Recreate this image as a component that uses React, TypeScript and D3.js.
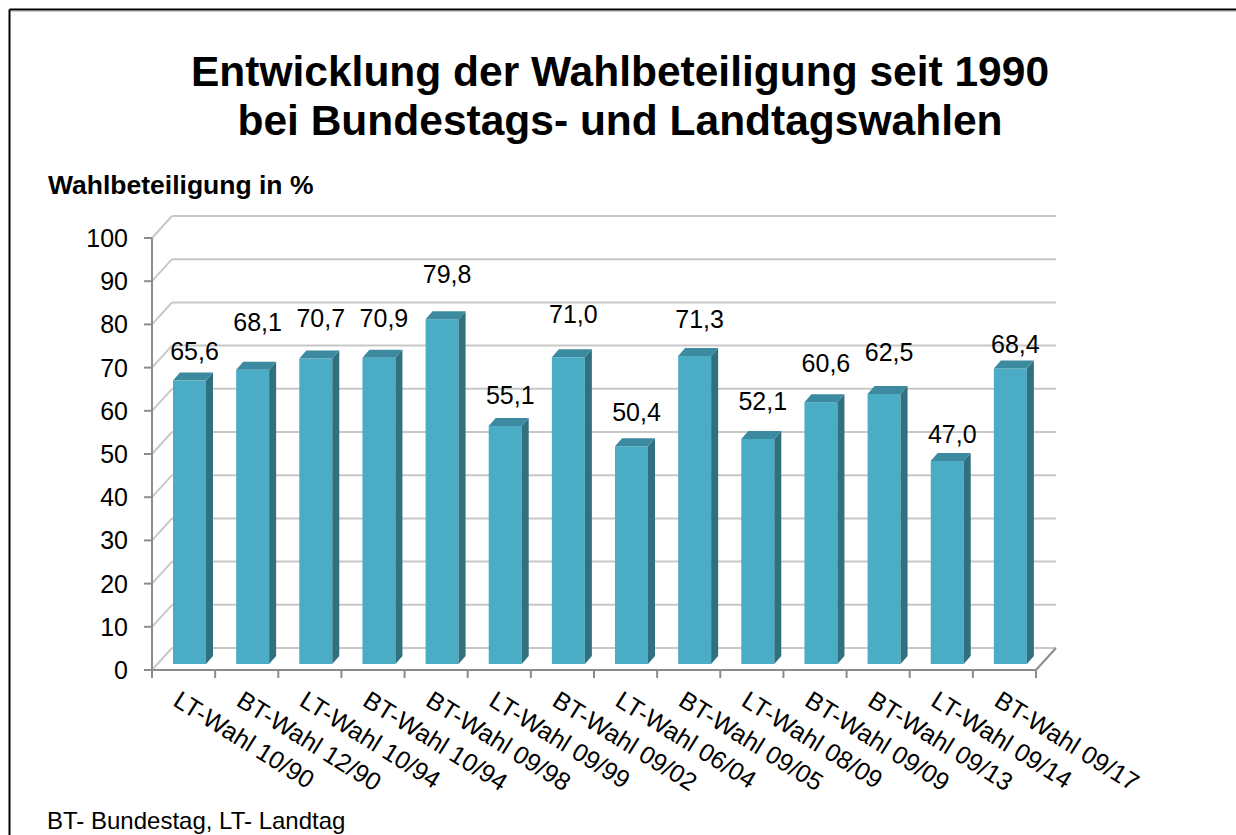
import React from "react";
import * as d3 from "d3";

// election labels (x axis) and turnout in percent
const elections = [
  "LT-Wahl 10/90",
  "BT-Wahl 12/90",
  "LT-Wahl 10/94",
  "BT-Wahl 10/94",
  "BT-Wahl 09/98",
  "LT-Wahl 09/99",
  "BT-Wahl 09/02",
  "LT-Wahl 06/04",
  "BT-Wahl 09/05",
  "LT-Wahl 08/09",
  "BT-Wahl 09/09",
  "BT-Wahl 09/13",
  "LT-Wahl 09/14",
  "BT-Wahl 09/17",
];
const turnout = [65.6, 68.1, 70.7, 70.9, 79.8, 55.1, 71.0, 50.4, 71.3, 52.1, 60.6, 62.5, 47.0, 68.4];
const yTicks = [0, 10, 20, 30, 40, 50, 60, 70, 80, 90, 100];
// labels were placed by hand in the original, gap above the bar top in px
const labelGap = [13, 31, 24, 23, 28, 14, 26, 17, 20, 21, 22, 25, 10, 8];

const W = 1236;
const H = 835;
const FONT = "'Liberation Sans', Arial, sans-serif";

// 3d look
const wallDx = 20;
const wallDy = -22;
const barDx = 6; // bar front plane inside the floor
const barDy = -6;
const depthDx = 7; // bar depth
const depthDy = -8;

const front = "#4BACC6";
const side = "#30707F";
const top = "#3B8AA0";
const grid = "#C8C8C8";
const axisCol = "#8C8C8C";

const fmt = (v: number) => v.toFixed(1).replace(".", ",");

export default function App() {
  const x = d3.scaleBand<string>().domain(elections).range([152, 1036]).paddingInner(0).paddingOuter(0);
  const y = d3.scaleLinear().domain([0, 100]).range([670, 238]);
  const bw = x.bandwidth();
  const barW = 33;
  const barOff = 21 - barDx;

  const x0 = x.range()[0];
  const x1 = x.range()[1];
  const yBase = y(0);

  return (
    <svg width={W} height={H} style={{ position: "absolute", left: 0, top: 0, background: "#fff" }} fontFamily={FONT}>
      {/* frame */}
      <line x1={9.5} y1={9.5} x2={W} y2={9.5} stroke="#000" strokeWidth={2} />
      <line x1={9.5} y1={9.5} x2={9.5} y2={H} stroke="#000" strokeWidth={2} />
      <line x1={11} y1={11.5} x2={W} y2={11.5} stroke="#ccc" strokeWidth={1} />

      {/* title */}
      <text x={620} y={86} textAnchor="middle" fontSize={42.5} fontWeight="bold">
        Entwicklung der Wahlbeteiligung seit 1990
      </text>
      <text x={620} y={135} textAnchor="middle" fontSize={42.5} fontWeight="bold">
        bei Bundestags- und Landtagswahlen
      </text>
      <text x={48} y={194} fontSize={26.5} fontWeight="bold">
        Wahlbeteiligung in %
      </text>

      {/* back wall gridlines and side wall diagonals */}
      {yTicks.map((t) => (
        <g key={"g" + t}>
          <line x1={x0 + wallDx} x2={x1 + wallDx} y1={y(t) + wallDy} y2={y(t) + wallDy} stroke={grid} strokeWidth={2} />
          <line x1={x0} x2={x0 + wallDx} y1={y(t)} y2={y(t) + wallDy} stroke={grid} strokeWidth={2} />
        </g>
      ))}
      {/* floor right edge */}
      <line x1={x1} x2={x1 + wallDx} y1={yBase} y2={yBase + wallDy} stroke={axisCol} strokeWidth={2} />

      {/* bars */}
      {elections.map((e, i) => {
        const v = turnout[i];
        const fx = (x(e) as number) + barOff + barDx;
        const fy = y(v) + barDy;
        const by = yBase + barDy;
        return (
          <g key={e}>
            <rect x={fx} y={fy} width={barW} height={by - fy} fill={front} />
            <polygon
              points={`${fx + barW},${fy} ${fx + barW + depthDx},${fy + depthDy} ${fx + barW + depthDx},${by + depthDy} ${fx + barW},${by}`}
              fill={side}
            />
            <polygon
              points={`${fx},${fy} ${fx + depthDx},${fy + depthDy} ${fx + barW + depthDx},${fy + depthDy} ${fx + barW},${fy}`}
              fill={top}
            />
          </g>
        );
      })}

      {/* axes */}
      <line x1={x0} x2={x0} y1={y(100)} y2={yBase} stroke={axisCol} strokeWidth={2} />
      <line x1={x0 - 8} x2={x1} y1={yBase} y2={yBase} stroke={axisCol} strokeWidth={2} />
      {yTicks.map((t) => (
        <g key={"t" + t}>
          <line x1={x0 - 8} x2={x0} y1={y(t)} y2={y(t)} stroke={axisCol} strokeWidth={2} />
          <text x={128} y={y(t)} dy="0.36em" textAnchor="end" fontSize={25}>
            {t}
          </text>
        </g>
      ))}
      {elections.map((e) => (
        <line key={"xt" + e} x1={(x(e) as number) + bw} x2={(x(e) as number) + bw} y1={yBase} y2={yBase + 8} stroke={axisCol} strokeWidth={2} />
      ))}
      <line x1={x0} x2={x0} y1={yBase} y2={yBase + 8} stroke={axisCol} strokeWidth={2} />

      {/* x labels */}
      {elections.map((e) => {
        const cx = (x(e) as number) + bw / 2 - 2;
        return (
          <text key={"xl" + e} transform={`translate(${cx},689) rotate(32)`} dy="0.74em" fontSize={25}>
            {e}
          </text>
        );
      })}

      {/* value labels */}
      {elections.map((e, i) => {
        const cx = (x(e) as number) + barOff + barDx + barW / 2 + 5;
        const ty = y(turnout[i]) + barDy + depthDy - labelGap[i];
        return (
          <text key={"vl" + e} x={cx} y={ty} textAnchor="middle" fontSize={25}>
            {fmt(turnout[i])}
          </text>
        );
      })}

      {/* footnote */}
      <text x={47} y={829} fontSize={24}>
        BT- Bundestag, LT- Landtag
      </text>
    </svg>
  );
}
